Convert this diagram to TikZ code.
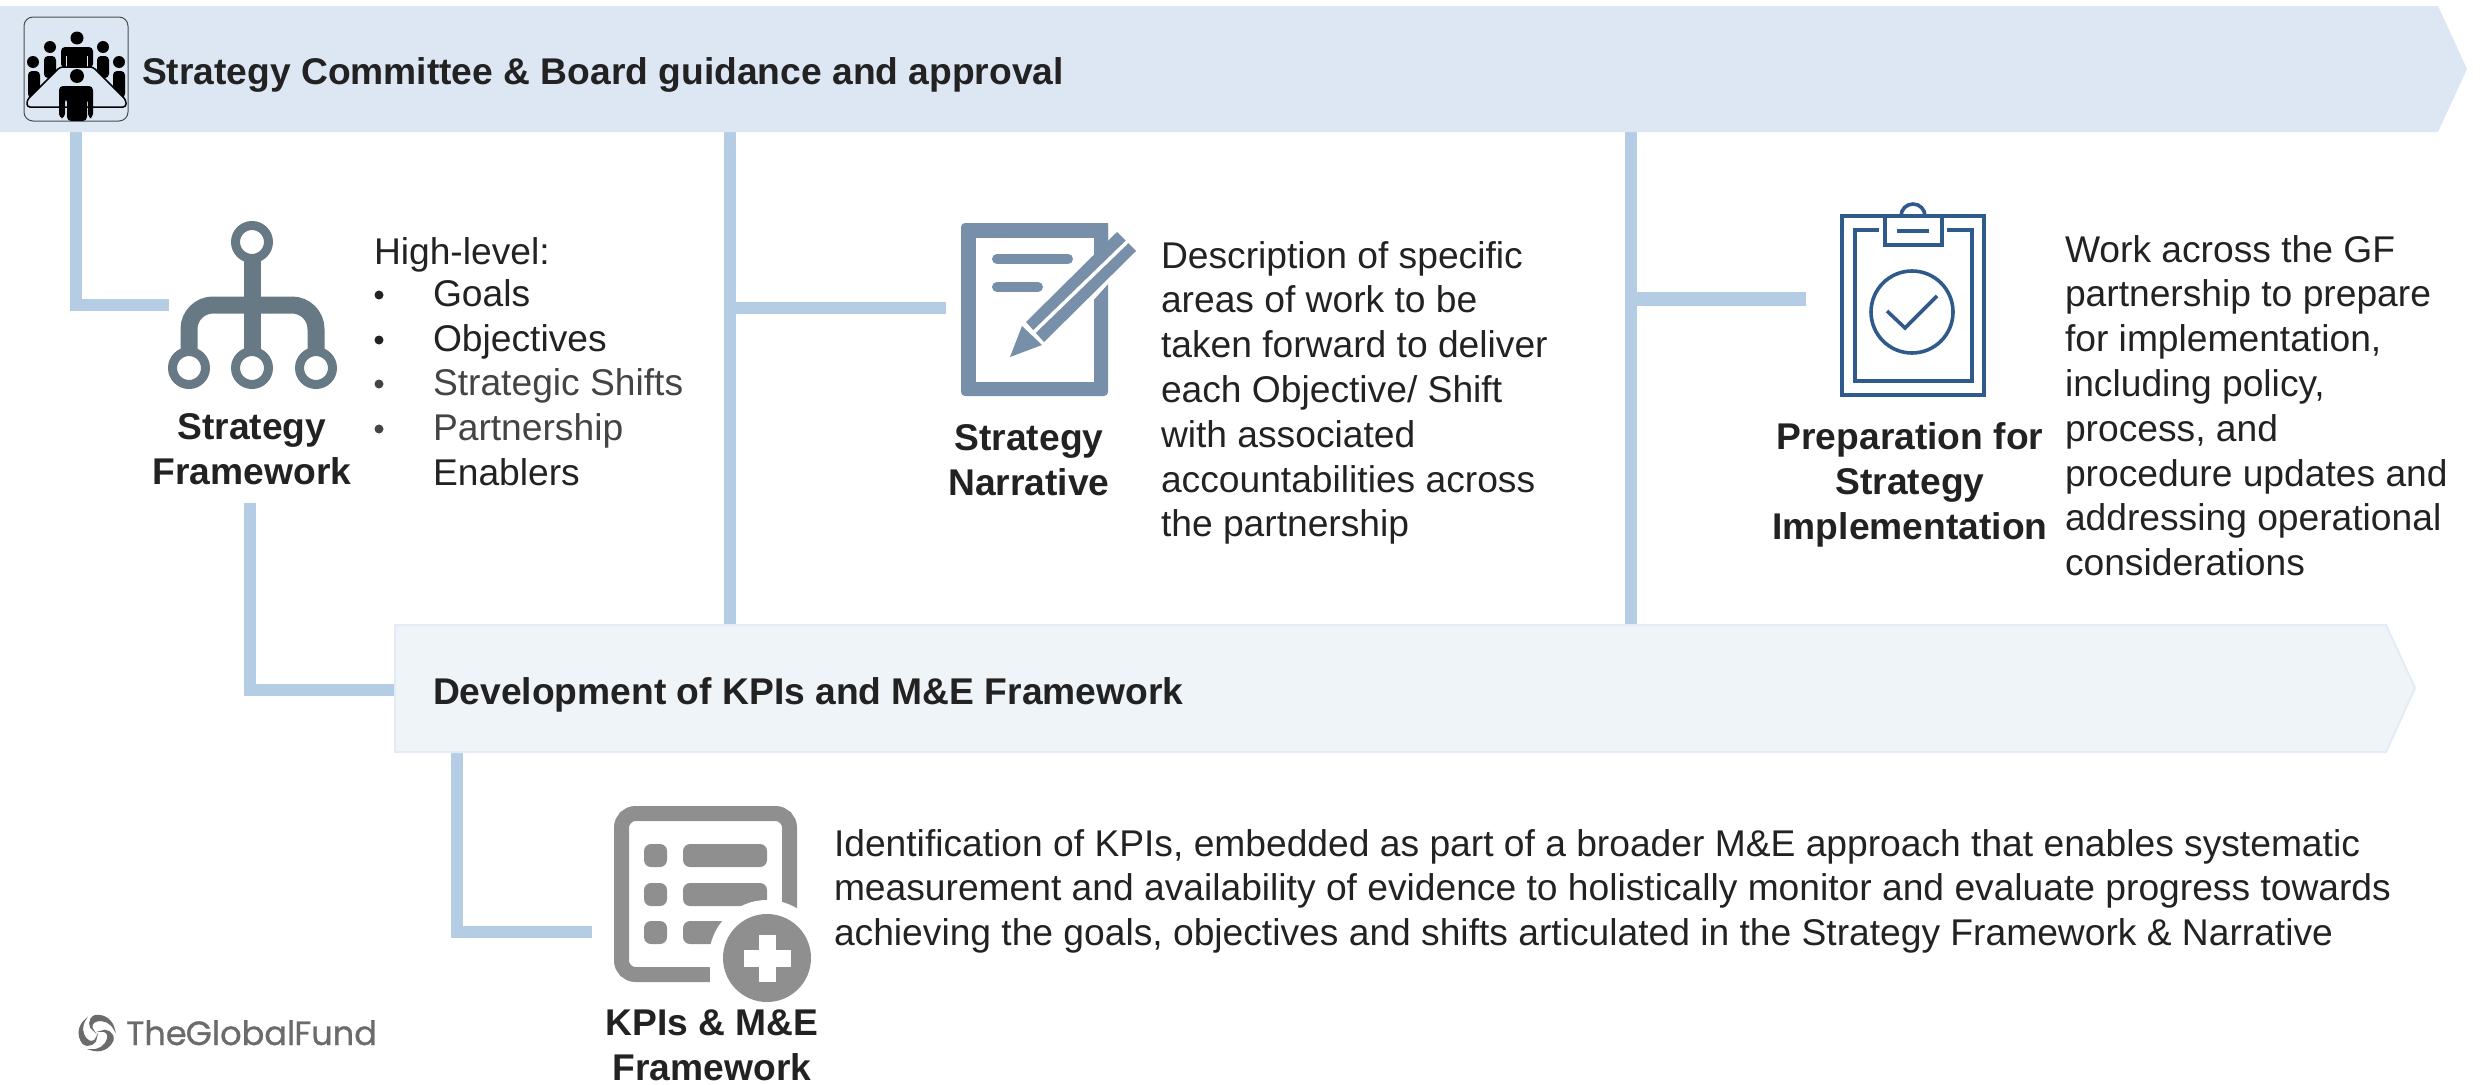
\documentclass[tikz,border=0pt]{standalone}
\usepackage{fontspec}
\setmainfont{Liberation Sans}
\newfontfamily\logofont[FakeBold=0.8]{Poppins}
\usetikzlibrary{calc}
\definecolor{bandA}{HTML}{DCE7F3}
\definecolor{bandB}{HTML}{EFF4F9}
\definecolor{bandBline}{HTML}{E3ECF5}
\definecolor{conn}{HTML}{B4CDE4}
\definecolor{ink}{HTML}{222222}
\definecolor{inkb}{HTML}{444444}
\definecolor{slate}{HTML}{667985}
\definecolor{steel}{HTML}{788FA9}
\definecolor{navy}{HTML}{2F5A8C}
\definecolor{kpigray}{HTML}{8F8F8F}
\definecolor{logogray}{HTML}{6B6B6B}
\newcommand{\lft}{\rule{0pt}{30pt}}
\tikzset{
  body/.style={inner sep=0pt,outer sep=0pt,anchor=north west,align=left,text=ink,font=\fontsize{37.2}{44.8}\selectfont},
  head/.style={inner sep=0pt,outer sep=0pt,anchor=north,align=center,text=ink,font=\fontsize{37.2}{45.2}\selectfont\bfseries},
  bandtext/.style={inner sep=0pt,outer sep=0pt,anchor=base west,text=ink,font=\fontsize{37.2}{44}\selectfont\bfseries},
  connector/.style={draw=conn,line width=12pt,miter limit=10}
}
\begin{document}
\begin{tikzpicture}[x=1pt,y=-1pt]
\useasboundingbox (0,0) rectangle (2481,1084);
% named anchors on the bands and icons
\coordinate (topA) at (76,132);
\coordinate (topB) at (730,132);
\coordinate (topC) at (1631,132);
\coordinate (midB) at (730,625);
\coordinate (midC) at (1631,625);
\coordinate (midL) at (395,690);
\coordinate (midF) at (457,752);
\coordinate (sfIn) at (169,305);
\coordinate (sfOut) at (250,503);
\coordinate (snIn) at (946,308);
\coordinate (spIn) at (1806,299);
\coordinate (kpIn) at (592,932);
% connectors
\draw[connector] (topA) |- (sfIn);
\draw[connector] (topB) -- (midB);
\draw[connector] ($(topB)+(0,176)$) -- (snIn);
\draw[connector] (topC) -- (midC);
\draw[connector,line width=14pt] ($(topC)+(0,167)$) -- (spIn);
\draw[connector] (sfOut) |- (midL);
\draw[connector] (midF) |- (kpIn);
% bands
\fill[bandA] (0,6) -- (2438,6) -- (2467,69) -- (2438,132) -- (0,132) -- cycle;
\filldraw[fill=bandB,draw=bandBline,line width=2pt] (395,625) -- (2386,625) -- (2415,688) -- (2386,752) -- (395,752) -- cycle;
\node[bandtext] (toplabel) at (142,84) {Strategy Committee \& Board guidance and approval};
\node[bandtext] (midlabel) at (433,704) {Development of KPIs and M\&E Framework};
% committee icon
\begin{scope}
\draw[draw=black!70,line width=1pt,rounded corners=9pt] (24,17) rectangle (128,121);
\fill[black] (77,38) circle (6.5);
\fill[black,rounded corners=4pt] (61,68) -- (61,47) -- (93,47) -- (93,68) -- cycle;
\draw[bandA,line width=1pt] (66.5,56) -- (66.5,68) (87.5,56) -- (87.5,68);
\foreach \hx/\hy/\bx/\by/\ey in {50/47/44/56/78,103/47/97/56/78,33/62/28/71/98,119/62/113/71/98}{
  \fill[black] (\hx,\hy) circle (6);
  \fill[black,rounded corners=4pt] (\bx,\ey) -- (\bx,\by) -- (\bx+12,\by) -- (\bx+12,\ey) -- cycle;
}
\filldraw[fill=bandA,draw=black,line width=1.5pt,rounded corners=3pt] (60,67) -- (93,67) -- (126,100) -- (126,107) -- (27,107) -- (27,100) -- cycle;
\fill[black] (77,76) circle (7);
\fill[black,rounded corners=4pt] (59,118) -- (59,86) -- (93,86) -- (93,118) -- (88,118) -- (88,98) -- (87,98) -- (87,121) -- (67,121) -- (67,98) -- (65,98) -- (65,118) -- cycle;
\end{scope}
% strategy framework icon
\begin{scope}[slate]
\draw[line width=17pt] (252,250) -- (252,360);
\draw[line width=17pt,rounded corners=24pt] (189,375) -- (189,305) -- (316,305) -- (316,375);
\foreach \cx/\cy in {252/242,189/368,252/368,316/368}{
  \filldraw[fill=white,draw=slate,line width=9pt] (\cx,\cy) circle (16.5);
}
\end{scope}
\node[head] (sfhead) at (252,409) {\rule{0pt}{30pt}Strategy\\Framework};
\node[body] (sftext) at (374,234) {\lft High-level:};
\foreach \nm/\yy/\cc/\tt in {a/276/ink/Goals,b/321/ink/Objectives,c/365/inkb/Strategic Shifts,d/410/inkb/Partnership}{
  \node[body,text=\cc] (sfb\nm) at (433,\yy) {\lft \tt};
  \fill[\cc] (379,\yy+19) circle (4.5);
}
\node[body] (sfbe) at (433,455) {\lft Enablers};
% narrative icon
\fill[steel,rounded corners=4pt] (961,223) rectangle (1108,396);
\fill[white] (976,238) rectangle (1094,382);
\draw[steel,line width=10pt,line cap=round] (997,259) -- (1068,259) (997,287) -- (1038,287);
\fill[white] (1026,322) -- (1117,232) -- (1118,245) -- (1126,264) -- (1044,355) -- (1030,352) -- cycle;
\fill[steel] (1094,256) -- (1108,242) -- (1108,223) -- (1094,223) -- cycle;
\fill[steel] (1026,322) -- (1117,232) -- (1136,251) -- (1044,342) -- cycle;
\draw[white,line width=3.5pt] (1034,332) -- (1128,241);
\draw[white,line width=3.5pt] (1022,325) -- (1044,347);
\fill[steel] (1010,357) -- (1022,326) -- (1042,345) -- cycle;
\node[head] (snhead) at (1029,420) {\rule{0pt}{30pt}Strategy\\Narrative};
\node[body] (sntext) at (1161,238) {\lft Description of specific\\areas of work to be\\taken forward to deliver\\each Objective/ Shift\\with associated\\accountabilities across\\the partnership};
% clipboard icon
\begin{scope}[navy,line width=3.6pt]
\draw (1885,216) -- (1842,216) -- (1842,395) -- (1984,395) -- (1984,216) -- (1942,216);
\draw (1879,230) -- (1855,230) -- (1855,381) -- (1972,381) -- (1972,230) -- (1947,230);
\draw (1885,216) rectangle (1942,245);
\draw (1901,216) arc[start angle=180,end angle=360,radius=12];
\draw (1897,231) -- (1929,231);
\draw (1912,312) circle (41);
\draw (1887,311) -- (1905,328) -- (1937,296);
\end{scope}
\node[head] (sphead) at (1910,419) {\rule{0pt}{30pt}Preparation for\\Strategy\\Implementation};
\node[body] (sptext) at (2065,232) {\lft Work across the GF\\partnership to prepare\\for implementation,\\including policy,\\process, and\\procedure updates and\\addressing operational\\considerations};
% KPI icon
\draw[kpigray,line width=15pt,rounded corners=14pt] (621.5,813.5) rectangle (789.5,974.5);
\foreach \yy in {844,883,921}{
  \fill[kpigray,rounded corners=7pt] (644,\yy) rectangle (667,\yy+23);
  \fill[kpigray,rounded corners=7pt] (683,\yy) rectangle (767,\yy+23);
}
\fill[white] (767,958) circle (58);
\fill[white] (710,960) rectangle (820,1010);
\fill[kpigray] (767,958) circle (44);
\fill[white] (743.5,949.5) rectangle (790.5,966.5);
\fill[white] (758.5,935) rectangle (775.5,982);
\node[head] (kphead) at (712,1005) {\rule{0pt}{30pt}KPIs \& M\&E\\Framework};
\node[body] (kptext) at (834,826) {\lft Identification of KPIs, embedded as part of a broader M\&E approach that enables systematic\\measurement and availability of evidence to holistically monitor and evaluate progress towards\\achieving the goals, objectives and shifts articulated in the Strategy Framework \& Narrative};
% logo
\foreach \a in {0,120,240}{
  \begin{scope}[shift={(97,1033)},rotate=\a]
    \filldraw[fill=logogray,draw=logogray,line width=1pt] (-2,-17.5) .. controls (8,-19) and (16,-12) .. (17.5,-3) .. controls (14,-10) and (8,-13.5) .. (0,-12) .. controls (-5,-11) and (-7,-6) .. (-3,-2) .. controls (-9,-5) and (-9,-15) .. (-2,-17.5) -- cycle;
  \end{scope}
}
\node[inner sep=0pt,anchor=base west,text=logogray,font=\logofont\fontsize{33.6}{33}\selectfont] (logo) at (126,1045) {The\kern-1pt Global\kern-1pt Fund};
\end{tikzpicture}
\end{document}
